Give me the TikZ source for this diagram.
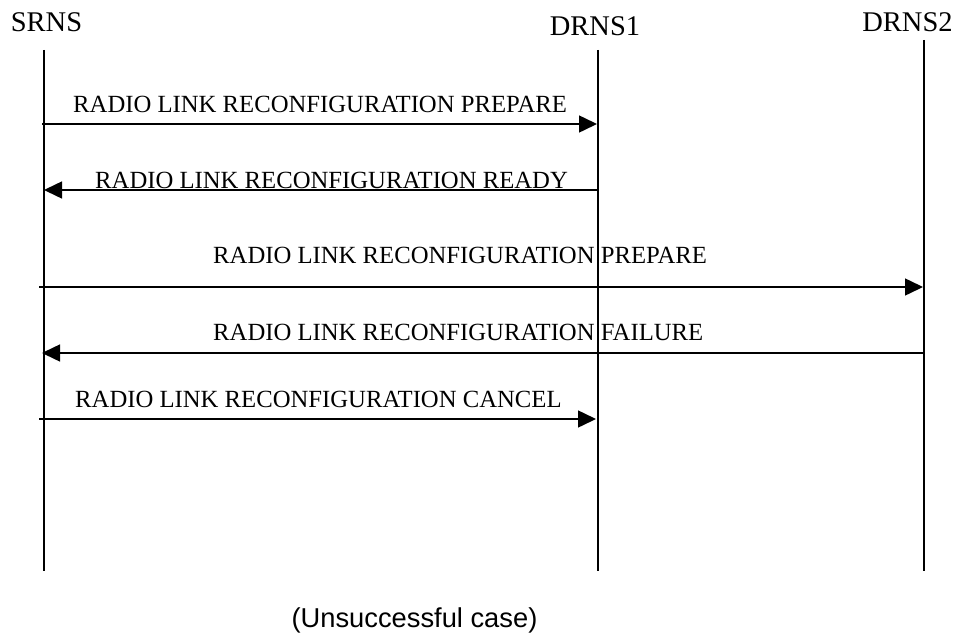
\documentclass[tikz,border=0pt]{standalone}
\usepackage{fontspec}
\setmainfont{Liberation Serif}
\newfontfamily\captionfont{Liberation Sans}
\usetikzlibrary{arrows.meta}
\begin{document}
\begin{tikzpicture}[x=1pt,y=-1pt,
  entity/.style={inner sep=0pt,anchor=base,font=\fontsize{28.5}{30}\selectfont},
  msglabel/.style={inner sep=0pt,anchor=base west,font=\fontsize{24.7}{26}\selectfont},
  lifeline/.style={line width=1.3pt},
  msg/.style={line width=1.5pt,-{Triangle[length=18pt,width=17pt]}}]
\useasboundingbox (0,0) rectangle (957,642);
\fill[white] (0,0) rectangle (957,642);

% entities
\node[entity] (srns)  at (46.5,32) {SRNS};
\node[entity] (drns1) at (595,36) {DRNS1};
\node[entity] (drns2) at (907.5,32) {DRNS2};

% lifelines
\coordinate (sTop) at (44,50);   \coordinate (sBot) at (44,571);
\coordinate (d1Top) at (598,50); \coordinate (d1Bot) at (598,571);
\coordinate (d2Top) at (924,40); \coordinate (d2Bot) at (924,571);
\draw[lifeline] (sTop) -- (sBot);
\draw[lifeline] (d1Top) -- (d1Bot);
\draw[lifeline] (d2Top) -- (d2Bot);

% message end points
\coordinate (m1a) at (42,124);  \coordinate (m1b) at (597,124);
\coordinate (m2a) at (597,190); \coordinate (m2b) at (44,190);
\coordinate (m3a) at (39,287);  \coordinate (m3b) at (923,287);
\coordinate (m4a) at (924,353); \coordinate (m4b) at (42,353);
\coordinate (m5a) at (39,419);  \coordinate (m5b) at (596,419);

% messages
\draw[msg] (m1a) -- (m1b);
\node[msglabel] (l1) at (73,112) {RADIO LINK RECONFIGURATION PREPARE};
\draw[msg] (m2a) -- (m2b);
\node[msglabel] (l2) at (95,188) {RADIO LINK RECONFIGURATION READY};
\draw[msg] (m3a) -- (m3b);
\node[msglabel] (l3) at (213,263) {RADIO LINK RECONFIGURATION PREPARE};
\draw[msg] (m4a) -- (m4b);
\node[msglabel] (l4) at (213,340) {RADIO LINK RECONFIGURATION FAILURE};
\draw[msg] (m5a) -- (m5b);
\node[msglabel] (l5) at (75,407) {RADIO LINK RECONFIGURATION CANCEL};

% caption
\node[inner sep=0pt,anchor=base,font=\captionfont\fontsize{27.3}{29}\selectfont] (cap) at (414.5,627) {(Unsuccessful case)};
\end{tikzpicture}
\end{document}
